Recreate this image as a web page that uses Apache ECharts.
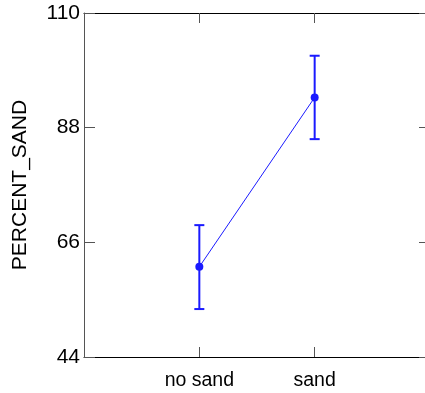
<!DOCTYPE html>
<html>
<head>
<meta charset="utf-8">
<script src="https://cdn.jsdelivr.net/npm/echarts@6/dist/echarts.min.js"></script>
<style>
html,body{margin:0;padding:0;background:#fff;}
#c{width:425px;height:393px;}
</style>
</head>
<body>
<div id="c"></div>
<script>
var categories = ['', 'no sand', 'sand', ''];
var means = [null, 61.3, 93.8, null];
var lows = [null, 53.2, 85.8, null];
var highs = [null, 69.3, 101.8, null];
var yTicks = [44, 66, 88, 110];

var errData = [];
for (var i = 0; i < categories.length; i++) {
  if (means[i] !== null) errData.push([i, lows[i], highs[i]]);
}

var chart = echarts.init(document.getElementById('c'), null, {renderer: 'canvas'});
var font = 'Liberation Sans, Arial, sans-serif';
var axisLine = {lineStyle: {color: '#000', width: 1}};
var tickStyle = {lineStyle: {color: '#555', width: 1}};

chart.setOption({
  animation: false,
  grid: {left: 84, top: 13, width: 346, height: 344, containLabel: false, outerBoundsMode: 'none'},
  xAxis: [{
    type: 'category', data: categories, boundaryGap: false, position: 'bottom',
    axisLine: axisLine,
    axisTick: Object.assign({show: true, inside: true, length: 10, interval: function(i){return i===1||i===2;}}, tickStyle),
    axisLabel: {color: '#000', fontSize: 19.5, fontFamily: font, margin: 14, interval: 0},
    splitLine: {show: false}
  }, {
    type: 'category', data: categories, boundaryGap: false, position: 'top',
    axisLine: axisLine,
    axisTick: Object.assign({show: true, inside: true, length: 10, interval: function(i){return i===1||i===2;}}, tickStyle),
    axisLabel: {show: false},
    splitLine: {show: false}
  }],
  yAxis: [{
    type: 'value', min: yTicks[0], max: yTicks[yTicks.length-1], interval: yTicks[1]-yTicks[0],
    position: 'left',
    name: 'PERCENT_SAND', nameLocation: 'middle', nameGap: 53,
    nameTextStyle: {color: '#000', fontSize: 21, fontFamily: font},
    axisLine: {show: true, lineStyle: {color: '#555', width: 1}},
    axisTick: Object.assign({show: true, inside: true, length: 11}, tickStyle),
    axisLabel: {color: '#000', fontSize: 21, fontFamily: font, margin: 4},
    splitLine: {show: false}
  }, {
    type: 'value', min: yTicks[0], max: yTicks[yTicks.length-1], interval: yTicks[1]-yTicks[0],
    position: 'right',
    axisLine: {show: true, lineStyle: {color: '#000', width: 1}},
    axisTick: Object.assign({show: true, inside: true, length: 11}, tickStyle),
    axisLabel: {show: false},
    splitLine: {show: false}
  }],
  series: [{
    type: 'line', data: means, xAxisIndex: 0, yAxisIndex: 0,
    symbol: 'circle', symbolSize: 8,
    lineStyle: {color: '#1a1aff', width: 1},
    itemStyle: {color: '#1a1aff'},
    z: 3
  }, {
    type: 'custom', xAxisIndex: 0, yAxisIndex: 0, data: errData,
    renderItem: function(params, api) {
      var x = api.value(0);
      var lo = api.coord([x, api.value(1)]);
      var hi = api.coord([x, api.value(2)]);
      var hw = 5;
      var st = {stroke: '#1a1aff', lineWidth: 2};
      return {type: 'group', children: [
        {type: 'line', shape: {x1: lo[0], y1: lo[1], x2: hi[0], y2: hi[1]}, style: st},
        {type: 'line', shape: {x1: lo[0]-hw, y1: lo[1], x2: lo[0]+hw, y2: lo[1]}, style: st},
        {type: 'line', shape: {x1: hi[0]-hw, y1: hi[1], x2: hi[0]+hw, y2: hi[1]}, style: st}
      ]};
    },
    z: 2
  }]
});
</script>
</body>
</html>
